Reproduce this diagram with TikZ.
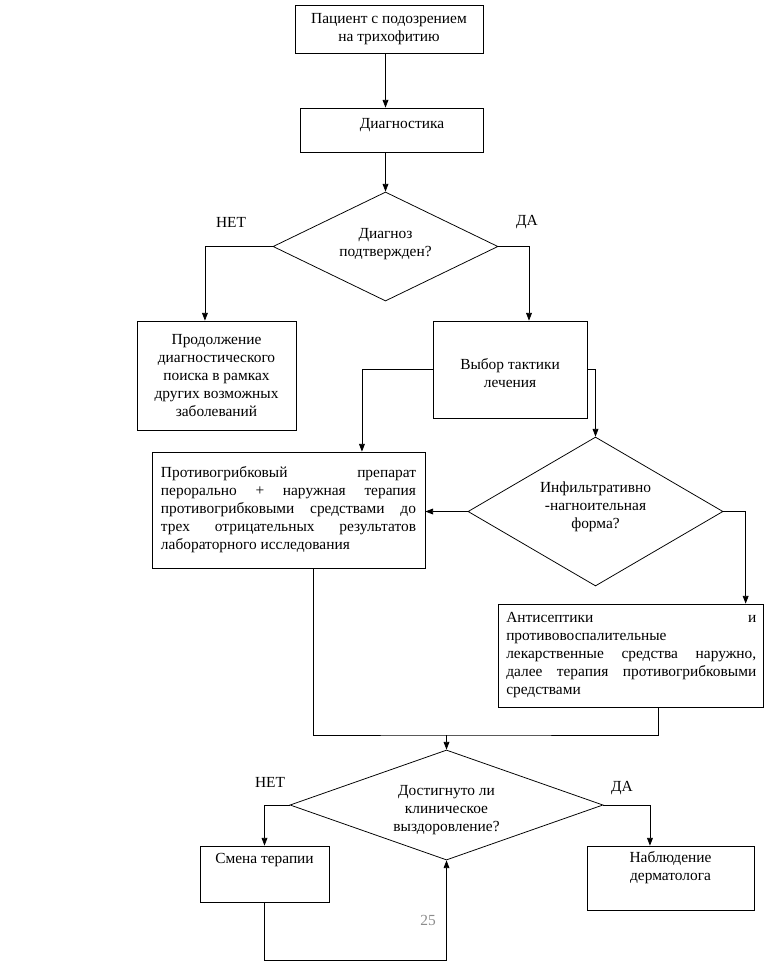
\documentclass[tikz,border=0pt]{standalone}
\usepackage{fontspec}
\setmainfont{Liberation Serif}
\usetikzlibrary{arrows.meta,shapes.geometric}

\begin{document}
\begin{tikzpicture}[x=0.7788pt,y=-0.7788pt,>={Triangle[length=6pt,width=4.5pt]},
  font=\fontsize{12}{14}\selectfont,line width=0.6pt,
  box/.style={draw,rectangle,inner sep=0pt,align=center},
  decision/.style={draw,diamond,inner sep=0pt},
  dtext/.style={align=center,inner sep=0pt},
  lbl/.style={inner sep=0pt}]
  \useasboundingbox (0,0) rectangle (764,964);
  % boxes
  \node[box,minimum width=146.4pt,minimum height=37.4pt] (start) at (389,29)
    {Пациент с подозрением\\на трихофитию};
  \node[box,minimum width=142.5pt,minimum height=34.3pt,
    label={[lbl,xshift=8.2pt,yshift=3.9pt]center:Диагностика}] (diag) at (391.5,130) {};
  \node[decision,minimum width=175.2pt,minimum height=84.9pt,
    label={[dtext,yshift=2pt]center:Диагноз\\подтвержден?}] (conf) at (385.5,246.5) {};
  \node[box,minimum width=123.8pt,minimum height=84.9pt] (search) at (216.5,375.5)
    {Продолжение\\диагностического\\поиска в рамках\\других возможных\\заболеваний};
  \node[box,minimum width=119.9pt,minimum height=75.5pt,
    label={[dtext,yshift=-3pt]center:Выбор тактики\\лечения}] (tactic) at (510,369.5) {};
  \node[box,align=justify,text width=198.6pt,inner xsep=7pt,minimum height=90.3pt]
    (systemic) at (288.5,510)
    {Противогрибковый препарат\linebreak перорально + наружная терапия\linebreak
     противогрибковыми средствами до\linebreak трех отрицательных результатов\linebreak
     лабораторного исследования};
  \node[decision,minimum width=198.6pt,minimum height=116pt,
    label={[dtext,yshift=4pt]center:Инфильтративно\\-нагноительная\\форма?}] (form) at (595.5,511.5) {};
  \node[box,align=justify,text width=194.7pt,inner xsep=5.85pt,minimum height=80.2pt]
    (local) at (631.25,655.5)
    {Антисептики и\linebreak противовоспалительные\newline
     лекарственные средства наружно,\linebreak далее терапия противогрибковыми\linebreak
     средствами};
  \node[decision,minimum width=243.8pt,minimum height=85.7pt,
    label={[dtext,yshift=-4pt]center:Достигнуто ли\\клиническое\\выздоровление?}] (cure) at (446.5,805) {};
  \node[box,minimum width=100.5pt,minimum height=43.6pt,
    label={[lbl,yshift=10.9pt]center:Смена терапии}] (change) at (264.5,874) {};
  \node[box,minimum width=130.1pt,minimum height=49.8pt,
    label={[dtext,yshift=7.8pt]center:Наблюдение\\дерматолога}] (observe) at (670.5,878) {};
  % labels
  \node[lbl] (no1) at (231,222) {НЕТ};
  \node[lbl] (yes1) at (527,222) {ДА};
  \node[lbl] (no2) at (270,782) {НЕТ};
  \node[lbl] (yes2) at (622,788) {ДА};
  \node[lbl,text=black!45] (page) at (428,920) {25};
  \coordinate (join) at (446.5,735);
  \coordinate (back) at (446.5,960);
  % connectors
  \draw[->] (conf.north |- start.south) -- (conf.north |- diag.north);
  \draw[->] (conf.north |- diag.south) -- (conf.north);
  \draw[->] (conf.west) -| ([xshift=-9pt]search.north);
  \draw[->] (conf.east) -| ([xshift=14.8pt]tactic.north);
  \draw[->] (tactic.west) -| ([xshift=57.2pt]systemic.north);
  \draw[->] (tactic.east) -| (form.north);
  \draw[->] (form.west) -- (systemic.east |- form.west);
  \draw[->] (form.east) -| ([xshift=-14.4pt]local.north east);
  \draw ([xshift=19.1pt]systemic.south) |- (join) -| ([xshift=21pt]local.south);
  \draw[->] (join) -- (cure.north);
  \draw[->] (cure.west) -| (change.north);
  \draw[->] (cure.east) -| ([xshift=-16pt]observe.north);
  \draw[->] (change.south) |- (back) -- (cure.south);
\end{tikzpicture}
\end{document}
